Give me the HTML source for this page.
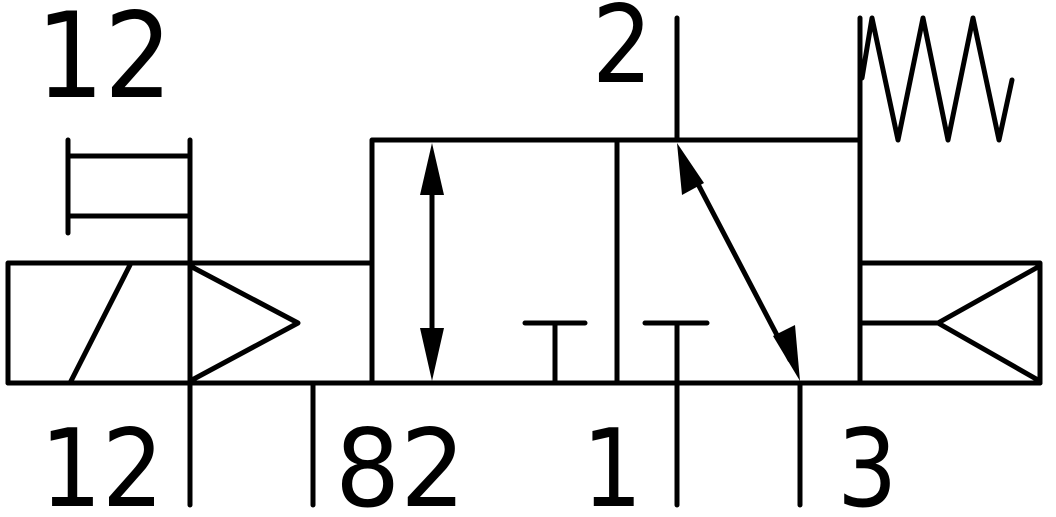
<!DOCTYPE html>
<html><head><style>
html,body{margin:0;padding:0;background:#fff;}
svg{display:block;}
text{font-family:"DejaVu Sans","Liberation Sans",sans-serif;fill:#000;}
</style></head><body>
<svg width="1056" height="517" viewBox="0 0 1056 517" xmlns="http://www.w3.org/2000/svg">
<g stroke="#000" stroke-width="5" fill="none" stroke-linecap="round" stroke-linejoin="round">
<rect x="8" y="263" width="182" height="120"/>
<line x1="70" y1="383" x2="130" y2="265"/>
<polyline points="190,263 372,263"/>
<polyline points="192,267 298,323 192,380"/>
<line x1="68" y1="140" x2="68" y2="233"/>
<line x1="68" y1="156" x2="190" y2="156"/>
<line x1="68" y1="216" x2="190" y2="216"/>
<line x1="190" y1="140" x2="190" y2="505"/>
<rect x="372" y="140" width="488" height="243"/>
<line x1="617" y1="140" x2="617" y2="383"/>
<line x1="8" y1="383" x2="1040" y2="383"/>
<line x1="313" y1="383" x2="313" y2="505"/>
<line x1="432" y1="165" x2="432" y2="358"/>
<line x1="525" y1="323" x2="585" y2="323"/>
<line x1="555" y1="323" x2="555" y2="383"/>
<line x1="645" y1="323" x2="707" y2="323"/>
<line x1="677" y1="323" x2="677" y2="505"/>
<line x1="677" y1="18" x2="677" y2="140"/>
<line x1="688" y1="165" x2="790" y2="360"/>
<line x1="800" y1="383" x2="800" y2="505"/>
<line x1="860" y1="18" x2="860" y2="140"/>
<polyline points="862,78 872,18 898,140 923,18 948,140 973,18 999,140 1012,80"/>
<rect x="860" y="263" width="180" height="120"/>
<polyline points="1038,267 938,323 1038,380"/>
<line x1="860" y1="323" x2="938" y2="323"/>
</g>
<g fill="#000">
<polygon points="432,143 420,195 444,195"/>
<polygon points="432,381 420,328 444,328"/>
<polygon points="677,143 682,195 704,183"/>
<polygon points="800,381 773,336 795,325"/>
</g>
<text transform="translate(36,97) scale(0.9,1)" font-size="119">12</text>
<text transform="translate(592,82) scale(0.88,1)" font-size="108">2</text>
<text transform="translate(40,506) scale(0.9,1)" font-size="108">12</text>
<text transform="translate(335,506) scale(0.95,1)" font-size="108">82</text>
<text transform="translate(582,506) scale(0.88,1)" font-size="108">1</text>
<text transform="translate(837,506) scale(0.88,1)" font-size="108">3</text>
</svg>
</body></html>
